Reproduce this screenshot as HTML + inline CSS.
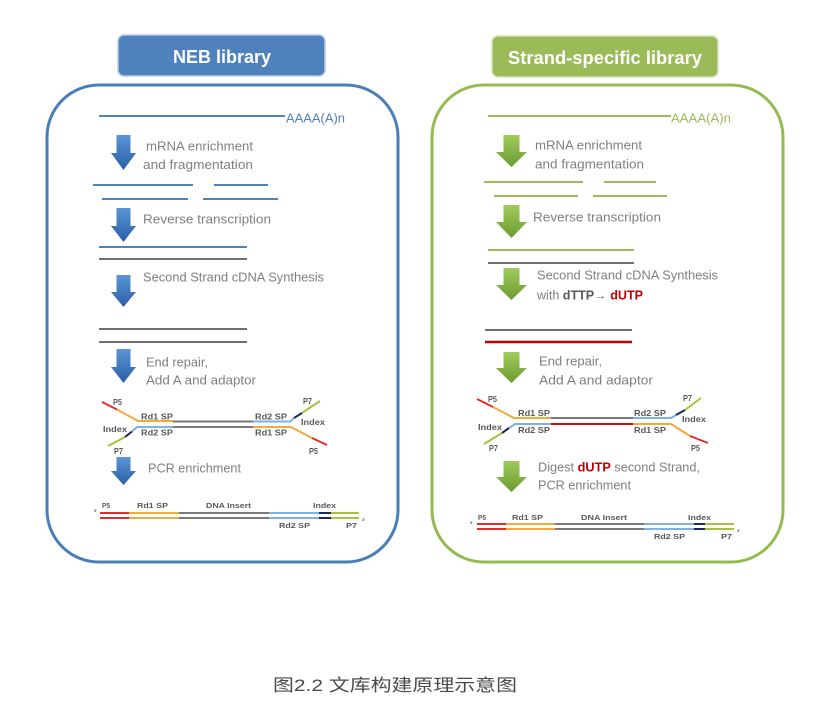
<!DOCTYPE html>
<html><head><meta charset="utf-8"><style>
html,body{margin:0;padding:0;background:#fff;}
svg{display:block;}
.t{font-family:"Liberation Sans",sans-serif;font-size:13px;fill:#7f7f7f;}
.l{font-family:"Liberation Sans",sans-serif;font-size:8.5px;font-weight:bold;fill:#595959;}
.f{font-family:"Liberation Sans",sans-serif;font-size:7.5px;font-weight:bold;fill:#595959;}
.h{font-family:"Liberation Sans",sans-serif;font-size:18px;font-weight:bold;fill:#fff;}
</style></head><body>
<svg width="818" height="706" viewBox="0 0 818 706" xmlns="http://www.w3.org/2000/svg">
<defs>
<linearGradient id="bg" x1="0" y1="0" x2="0" y2="1"><stop offset="0" stop-color="#5b95d8"/><stop offset="1" stop-color="#2a5ea4"/></linearGradient>
<linearGradient id="gg" x1="0" y1="0" x2="0" y2="1"><stop offset="0" stop-color="#a0cc5e"/><stop offset="1" stop-color="#6b9a30"/></linearGradient>
</defs>
<rect width="818" height="706" fill="#fff"/>

<!-- ===== LEFT PANEL ===== -->
<rect x="118" y="35" width="207" height="41" rx="6" fill="#4f81bd" stroke="#b8cce4" stroke-width="1.5"/>
<text class="h" x="173" y="63" textLength="98" lengthAdjust="spacingAndGlyphs">NEB library</text>
<rect x="47" y="85" width="351" height="477" rx="52" fill="none" stroke="#4a7ebb" stroke-width="3"/>

<line x1="99" y1="116" x2="285" y2="116" stroke="#4f81bd" stroke-width="2"/>
<text class="t" x="286" y="122.5" style="fill:#4f81bd" textLength="59" lengthAdjust="spacingAndGlyphs">AAAA(A)n</text>

<g fill="url(#bg)">
<path d="M116.5,135 L130.5,135 L130.5,153 L136,153 L123.5,170 L111,153 L116.5,153 Z"/>
<path d="M116.5,208 L130.5,208 L130.5,226 L136,226 L123.5,242 L111,226 L116.5,226 Z"/>
<path d="M116.5,275 L130.5,275 L130.5,292 L136,292 L123.5,307 L111,292 L116.5,292 Z"/>
<path d="M116.5,349 L130.5,349 L130.5,367 L136,367 L123.5,383 L111,367 L116.5,367 Z"/>
<path d="M116.5,457 L130.5,457 L130.5,471 L136,471 L123.5,485 L111,471 L116.5,471 Z"/>
</g>

<text class="t" x="146" y="150.5" textLength="107" lengthAdjust="spacingAndGlyphs">mRNA enrichment</text>
<text class="t" x="143" y="169" textLength="110" lengthAdjust="spacingAndGlyphs">and fragmentation</text>
<g stroke="#4f81bd" stroke-width="2">
<line x1="93" y1="185" x2="193" y2="185"/><line x1="214" y1="185" x2="268" y2="185"/>
<line x1="102" y1="199" x2="188" y2="199"/><line x1="203" y1="199" x2="278" y2="199"/>
</g>
<text class="t" x="143" y="223.5" textLength="128" lengthAdjust="spacingAndGlyphs">Reverse  transcription</text>
<line x1="99" y1="247" x2="247" y2="247" stroke="#4f81bd" stroke-width="2"/>
<line x1="99" y1="259" x2="247" y2="259" stroke="#6f6f6f" stroke-width="2"/>
<text class="t" x="143" y="281.5" textLength="181" lengthAdjust="spacingAndGlyphs">Second Strand  cDNA Synthesis</text>
<line x1="99" y1="329" x2="247" y2="329" stroke="#6f6f6f" stroke-width="2"/>
<line x1="99" y1="342" x2="247" y2="342" stroke="#6f6f6f" stroke-width="2"/>
<text class="t" x="146" y="366.5" textLength="62" lengthAdjust="spacingAndGlyphs">End repair,</text>
<text class="t" x="146" y="384.5" textLength="110" lengthAdjust="spacingAndGlyphs">Add A and adaptor</text>

<!-- left adaptor -->
<g fill="none" stroke-width="2" stroke-linecap="butt" stroke-linejoin="round">
<polyline points="102,402 117,409.5" stroke="#e32b2b"/>
<polyline points="117,409.5 138,421 173,421" stroke="#f5a93a"/>
<line x1="173" y1="421.5" x2="253" y2="421.5" stroke="#7a7a7a"/>
<line x1="173" y1="427" x2="253" y2="427" stroke="#7a7a7a"/>
<polyline points="253,421.5 290,421.5 294,418" stroke="#7fb2e2"/>
<polyline points="294,418 302,413" stroke="#1c2a5a"/>
<polyline points="302,413 320,401" stroke="#a6c33a"/>
<polyline points="173,427 137,427 132,431.5" stroke="#7fb2e2"/>
<polyline points="132,431.5 125,437" stroke="#1c2a5a"/>
<polyline points="125,437 108,446" stroke="#a6c33a"/>
<polyline points="253,427 291,427 312,438" stroke="#f5a93a"/>
<polyline points="312,438 327,445" stroke="#e32b2b"/>
</g>
<text class="l" x="113" y="405" textLength="9" lengthAdjust="spacingAndGlyphs">P5</text>
<text class="l" x="141" y="419.5" textLength="32" lengthAdjust="spacingAndGlyphs">Rd1 SP</text>
<text class="l" x="103" y="432" textLength="24" lengthAdjust="spacingAndGlyphs">Index</text>
<text class="l" x="141" y="435.5" textLength="32" lengthAdjust="spacingAndGlyphs">Rd2 SP</text>
<text class="l" x="114" y="454" textLength="9" lengthAdjust="spacingAndGlyphs">P7</text>
<text class="l" x="303" y="404" textLength="9" lengthAdjust="spacingAndGlyphs">P7</text>
<text class="l" x="255" y="419.5" textLength="32" lengthAdjust="spacingAndGlyphs">Rd2 SP</text>
<text class="l" x="301" y="425" textLength="24" lengthAdjust="spacingAndGlyphs">Index</text>
<text class="l" x="255" y="435.5" textLength="32" lengthAdjust="spacingAndGlyphs">Rd1 SP</text>
<text class="l" x="309" y="454" textLength="9" lengthAdjust="spacingAndGlyphs">P5</text>

<text class="t" x="148" y="472.5" textLength="93" lengthAdjust="spacingAndGlyphs">PCR enrichment</text>

<!-- left final -->
<g stroke-width="2">
<line x1="100" y1="513" x2="129" y2="513" stroke="#e32b2b"/><line x1="129" y1="513" x2="179" y2="513" stroke="#f5a93a"/>
<line x1="179" y1="513" x2="269" y2="513" stroke="#7a7a7a"/><line x1="269" y1="513" x2="319" y2="513" stroke="#7fb2e2"/>
<line x1="319" y1="513" x2="331" y2="513" stroke="#1c2a5a"/><line x1="331" y1="513" x2="359" y2="513" stroke="#a6c33a"/>
<line x1="100" y1="518" x2="129" y2="518" stroke="#e32b2b"/><line x1="129" y1="518" x2="179" y2="518" stroke="#f5a93a"/>
<line x1="179" y1="518" x2="269" y2="518" stroke="#7a7a7a"/><line x1="269" y1="518" x2="319" y2="518" stroke="#7fb2e2"/>
<line x1="319" y1="518" x2="331" y2="518" stroke="#1c2a5a"/><line x1="331" y1="518" x2="359" y2="518" stroke="#a6c33a"/>
</g>
<text class="f" x="102" y="508" textLength="8" lengthAdjust="spacingAndGlyphs">P5</text>
<text class="f" x="137" y="508" textLength="31" lengthAdjust="spacingAndGlyphs">Rd1 SP</text>
<text class="f" x="206" y="508" textLength="45" lengthAdjust="spacingAndGlyphs">DNA Insert</text>
<text class="f" x="313" y="508" textLength="23" lengthAdjust="spacingAndGlyphs">Index</text>
<text class="f" x="279" y="528" textLength="31" lengthAdjust="spacingAndGlyphs">Rd2 SP</text>
<text class="f" x="346" y="528" textLength="11" lengthAdjust="spacingAndGlyphs">P7</text>
<text class="f" x="94" y="512" style="font-size:4px">5'</text>
<text class="f" x="362" y="521" style="font-size:4px">3'</text>

<!-- ===== RIGHT PANEL ===== -->
<rect x="492" y="36" width="226" height="41" rx="6" fill="#9bbb59" stroke="#d7e4bd" stroke-width="1.5"/>
<text class="h" x="508" y="64" textLength="194" lengthAdjust="spacingAndGlyphs">Strand-specific library</text>
<rect x="432" y="85" width="351" height="477" rx="52" fill="none" stroke="#93bb50" stroke-width="3"/>

<line x1="488" y1="116" x2="671" y2="116" stroke="#9bbb59" stroke-width="2"/>
<text class="t" x="671" y="122.5" style="fill:#9bbb59" textLength="60" lengthAdjust="spacingAndGlyphs">AAAA(A)n</text>

<g fill="url(#gg)">
<path d="M503.5,135 L519.5,135 L519.5,152 L527,152 L511.5,167 L496,152 L503.5,152 Z"/>
<path d="M503.5,205 L519.5,205 L519.5,222 L527,222 L511.5,238 L496,222 L503.5,222 Z"/>
<path d="M503.5,268 L519.5,268 L519.5,285 L527,285 L511.5,300 L496,285 L503.5,285 Z"/>
<path d="M503.5,352 L519.5,352 L519.5,368 L527,368 L511.5,383 L496,368 L503.5,368 Z"/>
<path d="M503.5,461 L519.5,461 L519.5,477 L527,477 L511.5,492 L496,477 L503.5,477 Z"/>
</g>

<text class="t" x="535" y="149.5" textLength="107" lengthAdjust="spacingAndGlyphs">mRNA enrichment</text>
<text class="t" x="535" y="168.5" textLength="109" lengthAdjust="spacingAndGlyphs">and fragmentation</text>
<g stroke="#9bbb59" stroke-width="2">
<line x1="484" y1="182" x2="583" y2="182"/><line x1="604" y1="182" x2="656" y2="182"/>
<line x1="494" y1="196" x2="578" y2="196"/><line x1="593" y1="196" x2="667" y2="196"/>
</g>
<text class="t" x="533" y="221.5" textLength="128" lengthAdjust="spacingAndGlyphs">Reverse  transcription</text>
<line x1="488" y1="250" x2="634" y2="250" stroke="#9bbb59" stroke-width="2"/>
<line x1="488" y1="263" x2="634" y2="263" stroke="#6f6f6f" stroke-width="2"/>
<text class="t" x="537" y="279.5" textLength="181" lengthAdjust="spacingAndGlyphs">Second Strand  cDNA Synthesis</text>
<text class="t" x="537" y="299.5" textLength="106" lengthAdjust="spacingAndGlyphs">with <tspan style="font-weight:bold;fill:#595959">dTTP</tspan>→ <tspan style="font-weight:bold;fill:#c00000">dUTP</tspan></text>
<line x1="485" y1="330" x2="632" y2="330" stroke="#6f6f6f" stroke-width="2"/>
<line x1="485" y1="342" x2="632" y2="342" stroke="#c00000" stroke-width="2.5"/>
<text class="t" x="539" y="365.5" textLength="63" lengthAdjust="spacingAndGlyphs">End repair,</text>
<text class="t" x="539" y="384.5" textLength="114" lengthAdjust="spacingAndGlyphs">Add A and  adaptor</text>

<!-- right adaptor -->
<g fill="none" stroke-width="2" stroke-linejoin="round">
<polyline points="477,399 493,407" stroke="#e32b2b"/>
<polyline points="493,407 514,418 551,418" stroke="#f5a93a"/>
<line x1="551" y1="418" x2="633" y2="418" stroke="#7a7a7a"/>
<line x1="551" y1="424" x2="633" y2="424" stroke="#cc1111"/>
<polyline points="633,418 671,418 676,415" stroke="#7fb2e2"/>
<polyline points="676,415 685,410" stroke="#1c2a5a"/>
<polyline points="685,410 701,398" stroke="#a6c33a"/>
<polyline points="551,424 515,424 509,428" stroke="#7fb2e2"/>
<polyline points="509,428 502,433" stroke="#1c2a5a"/>
<polyline points="502,433 484,444" stroke="#a6c33a"/>
<polyline points="633,424 671,424 690,436" stroke="#f5a93a"/>
<polyline points="690,436 708,443" stroke="#e32b2b"/>
</g>
<text class="l" x="488" y="402" textLength="9" lengthAdjust="spacingAndGlyphs">P5</text>
<text class="l" x="518" y="416" textLength="32" lengthAdjust="spacingAndGlyphs">Rd1 SP</text>
<text class="l" x="478" y="430" textLength="24" lengthAdjust="spacingAndGlyphs">Index</text>
<text class="l" x="518" y="433" textLength="32" lengthAdjust="spacingAndGlyphs">Rd2 SP</text>
<text class="l" x="489" y="451" textLength="9" lengthAdjust="spacingAndGlyphs">P7</text>
<text class="l" x="683" y="401" textLength="9" lengthAdjust="spacingAndGlyphs">P7</text>
<text class="l" x="634" y="416" textLength="32" lengthAdjust="spacingAndGlyphs">Rd2 SP</text>
<text class="l" x="682" y="422" textLength="24" lengthAdjust="spacingAndGlyphs">Index</text>
<text class="l" x="634" y="433" textLength="32" lengthAdjust="spacingAndGlyphs">Rd1 SP</text>
<text class="l" x="691" y="451" textLength="9" lengthAdjust="spacingAndGlyphs">P5</text>

<text class="t" x="538" y="471.5" textLength="162" lengthAdjust="spacingAndGlyphs">Digest <tspan style="font-weight:bold;fill:#c00000">dUTP</tspan> second Strand,</text>
<text class="t" x="538" y="489.5" textLength="93" lengthAdjust="spacingAndGlyphs">PCR enrichment</text>

<!-- right final -->
<g stroke-width="2">
<line x1="477" y1="524" x2="506" y2="524" stroke="#e32b2b"/><line x1="506" y1="524" x2="555" y2="524" stroke="#f5a93a"/>
<line x1="555" y1="524" x2="644" y2="524" stroke="#7a7a7a"/><line x1="644" y1="524" x2="694" y2="524" stroke="#7fb2e2"/>
<line x1="694" y1="524" x2="705" y2="524" stroke="#1c2a5a"/><line x1="705" y1="524" x2="734" y2="524" stroke="#a6c33a"/>
<line x1="477" y1="529" x2="506" y2="529" stroke="#e32b2b"/><line x1="506" y1="529" x2="555" y2="529" stroke="#f5a93a"/>
<line x1="555" y1="529" x2="644" y2="529" stroke="#7a7a7a"/><line x1="644" y1="529" x2="694" y2="529" stroke="#7fb2e2"/>
<line x1="694" y1="529" x2="705" y2="529" stroke="#1c2a5a"/><line x1="705" y1="529" x2="734" y2="529" stroke="#a6c33a"/>
</g>
<text class="f" x="478" y="520" textLength="8" lengthAdjust="spacingAndGlyphs">P5</text>
<text class="f" x="512" y="520" textLength="31" lengthAdjust="spacingAndGlyphs">Rd1 SP</text>
<text class="f" x="581" y="520" textLength="46" lengthAdjust="spacingAndGlyphs">DNA Insert</text>
<text class="f" x="688" y="520" textLength="23" lengthAdjust="spacingAndGlyphs">Index</text>
<text class="f" x="654" y="539" textLength="31" lengthAdjust="spacingAndGlyphs">Rd2 SP</text>
<text class="f" x="721" y="539" textLength="11" lengthAdjust="spacingAndGlyphs">P7</text>
<text class="f" x="470" y="524" style="font-size:4px">5'</text>
<text class="f" x="737" y="532" style="font-size:4px">3'</text>

<!-- caption -->
<text x="273" y="691" textLength="244" lengthAdjust="spacingAndGlyphs" style="font-family:'Liberation Sans','Noto Sans CJK SC',sans-serif;font-size:17px;fill:#4a4a4a">图2.2 文库构建原理示意图</text>
</svg>
</body></html>
